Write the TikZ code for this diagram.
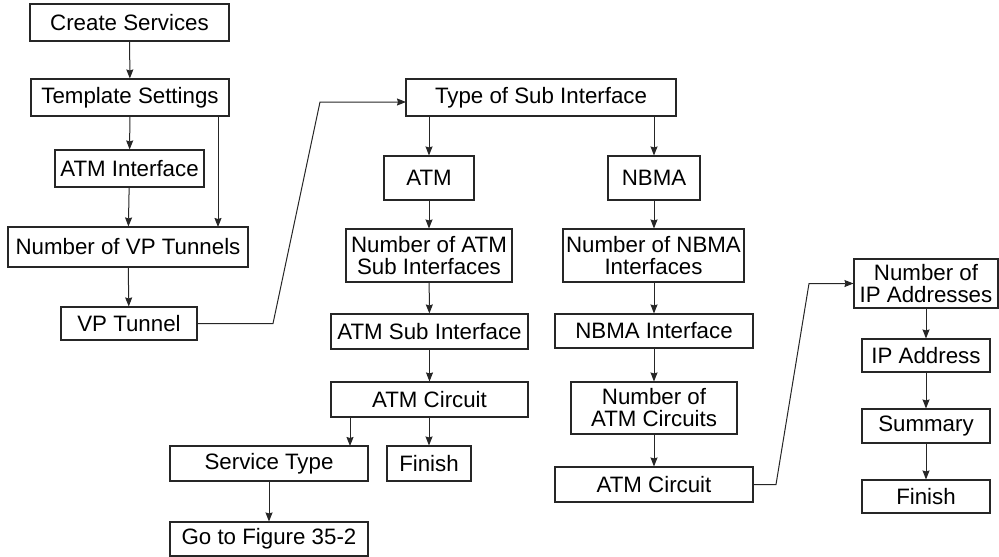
\documentclass[tikz,border=0pt]{standalone}
\usepackage{fontspec}
\setmainfont{Liberation Sans}
\usetikzlibrary{arrows.meta}
\begin{document}
\begin{tikzpicture}[x=1pt,y=-1pt,
  box/.style={draw=black!85,line width=1.1pt,inner sep=0pt,align=center,
    font=\fontsize{22.3}{22}\selectfont},
  arr/.style={draw=black!85,line width=1pt,-{Stealth[length=9pt,width=7pt,inset=1pt]}},
  ln/.style={draw=black!85,line width=1pt}]
\useasboundingbox (0,0) rectangle (999,557);
% left column
\node[box,minimum width=199,minimum height=37] (cs) at (129.5,22.5) {Create Services};
\node[box,minimum width=198,minimum height=37] (ts) at (130,97.5) {Template Settings};
\node[box,minimum width=149,minimum height=37] (ai) at (129.5,168.5) {ATM Interface};
\node[box,minimum width=240,minimum height=40] (nvp) at (128,247) {Number of VP Tunnels};
\node[box,minimum width=136,minimum height=33] (vpt) at (129,323.5) {VP Tunnel};
% middle
\node[box,minimum width=270,minimum height=37] (tsi) at (541,97.5) {Type of Sub Interface};
\node[box,minimum width=90,minimum height=44] (atm) at (429,178) {ATM};
\node[box,minimum width=92,minimum height=44] (nbma) at (654,178) {NBMA};
\node[box,minimum width=166,minimum height=53] (nasi) at (429,255.5) {Number of ATM\\Sub Interfaces};
\node[box,minimum width=181,minimum height=53] (nni) at (653.5,255.5) {Number of NBMA\\Interfaces};
\node[box,minimum width=197,minimum height=35] (asi) at (429.5,331.5) {ATM Sub Interface};
\node[box,minimum width=198,minimum height=34] (ni) at (654,331) {NBMA Interface};
\node[box,minimum width=197,minimum height=35] (ac1) at (429.5,399.5) {ATM Circuit};
\node[box,minimum width=166,minimum height=52] (nac) at (654,408) {Number of\\ATM Circuits};
\node[box,minimum width=198,minimum height=35] (ac2) at (654,484.5) {ATM Circuit};
\node[box,minimum width=198,minimum height=35] (st) at (269,463.5) {Service Type};
\node[box,minimum width=84,minimum height=35] (fin1) at (429,463.5) {Finish};
\node[box,minimum width=198,minimum height=34] (go) at (269,539) {Go to Figure 35-2};
% right column
\node[box,minimum width=144,minimum height=49] (nip) at (926,283.5) {Number of\\IP Addresses};
\node[box,minimum width=128,minimum height=33] (ipa) at (926,355.5) {IP Address};
\node[box,minimum width=128,minimum height=34] (sum) at (926,426) {Summary};
\node[box,minimum width=128,minimum height=33] (fin2) at (926,496.5) {Finish};
% helper coordinates
\coordinate (t1) at (218,116);
\coordinate (t2) at (218,227);
\coordinate (v1) at (273,323.5);
\coordinate (v2) at (320,102);
\coordinate (v3) at (406,102);
\coordinate (c1) at (350,417);
\coordinate (c2) at (350,446);
\coordinate (a1) at (776,484.5);
\coordinate (a2) at (809,283.5);
% connectors
\draw[arr] (cs) -- (ts);
\draw[arr] (ts) -- (ai);
\draw[arr] (t1) -- (t2);
\draw[arr] (ai) -- (nvp);
\draw[arr] (nvp) -- (vpt);
\draw[arr] (vpt.east) -- (v1) -- (v2) -- (v3);
\draw[arr] (tsi.south -| atm.north) -- (atm);
\draw[arr] (tsi.south -| nbma.north) -- (nbma);
\draw[arr] (atm) -- (nasi);
\draw[arr] (nasi) -- (asi);
\draw[arr] (asi) -- (ac1);
\draw[arr] (c1) -- (c2);
\draw[arr] (ac1.south -| fin1.north) -- (fin1);
\draw[arr] (st) -- (go);
\draw[arr] (nbma) -- (nni.north -| nbma.south);
\draw[arr] (nni.south -| nbma.south) -- (ni.north -| nbma.south);
\draw[arr] (ni) -- (nac);
\draw[arr] (nac) -- (ac2);
\draw[arr] (ac2.east) -- (a1) -- (a2) -- (nip.west);
\draw[arr] (nip) -- (ipa);
\draw[arr] (ipa) -- (sum);
\draw[arr] (sum) -- (fin2);
\end{tikzpicture}
\end{document}
